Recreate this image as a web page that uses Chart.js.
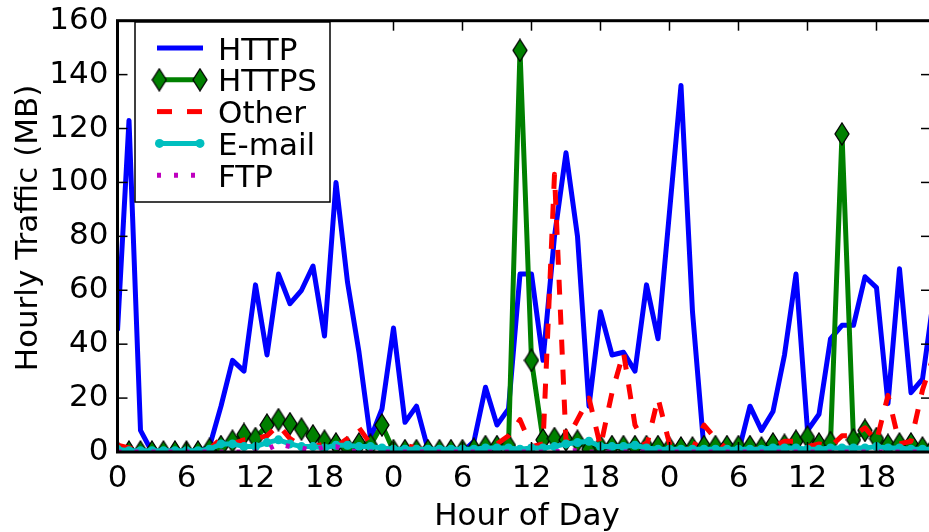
<!DOCTYPE html>
<html>
<head>
<meta charset="utf-8">
<script src="https://cdn.jsdelivr.net/npm/chart.js@4.4.1/dist/chart.umd.min.js"></script>
<style>
  html, body { margin: 0; padding: 0; overflow: hidden; background: #fff; }
  canvas { display: block; }
</style>
</head>
<body>
<canvas id="chart" width="932" height="532"></canvas>
<script>
// hourly samples over three days
const hours = [0,1,2,3,4,5,6,7,8,9,10,11,12,13,14,15,16,17,18,19,20,21,22,23,
  24,25,26,27,28,29,30,31,32,33,34,35,36,37,38,39,40,41,42,43,44,45,46,47,
  48,49,50,51,52,53,54,55,56,57,58,59,60,61,62,63,64,65,66,67,68,69,70,71];

const httpTraffic = [45,123,8,0,0,0,0,0,2,17, 34,30,62,36,66,55,60,69,43,100,
  63,37,5,16,46,11,17,1,0,0, 0,4,24,10,16,66,66,34,80,111,
  80,17,52,36,37,30,62,42,89,136, 52,1,0,4,0,17,8,15,36,66,
  8,14,42,47,47,65,61,18,68,22, 27,58];
const httpsTraffic = [0,0,0,0,0,0,0,0,1,2, 4,6.5,5,10,12,10.5,8.5,6,4,3,
  1.5,3,2.5,10,0.5,0.5,0.5,0.5,0.5,0.5, 0.5,1,2,2,2.5,149,34,4.5,5,4.5,
  4,1,2,2,2,2,2,2,1.5,1.5, 1.5,2,2,2,2,2,1.5,3,2.5,4,
  5.5,3,3.5,118,4.5,8,5,2.5,3,3, 1.5,2];
const otherTraffic = [2.5,1.5,0.5,0,0,0,0,0,1,5, 3,4.5,5,6,10,5,2,2,3,2,
  5,9,3,1,1,2.5,1.5,0.5,0.5,0.5, 0.5,1,1,3,6,12,2,3,103,4,
  12,20,2,22,37,10,2,20,3,1, 1,10,5,1,0.5,1,1,2,4,4,
  2,3,2,6,6,9,4,21,3,4, 23,36];
const emailTraffic = [1,0.5,0.5,0.5,0.5,0.5,0.5,0.5,1,3, 3,2,2,3.5,4.5,3,2,2,1.5,2.5,
  2.5,2,2,1.5,1,1,1,1,1,1, 1,1,1.5,1.5,1.5,1,1.5,1.5,2,3,
  3.5,4,2,2,2,2.5,1.5,1,1,1, 1,1,1,1,1,1,1,1.5,1.5,1.5,
  1,1,1.5,1.5,1.5,1.5,2,1.5,1.5,1, 1,1];
const ftpTraffic = [0,0,0,0,0,0,0,0,0,0, 0,0,0,1,3,2,1.5,0.5,2,2,
  0.5,0,0,0,0,0,0,0,0,0, 0,0,0,0,0,0,0,0,0,0.5,
  0.5,0,0,0,0,0,0,0,0,0, 0,0,0,0,0,0,0,0,0,0,
  0,0,0,0,0,0,0,0,0,0, 0,0];

const xTickValues = [0,6,12,18,24,30,36,42,48,54,60,66];
const xTickLabels = ['0','6','12','18','0','6','12','18','0','6','12','18'];
const yTickValues = [0,20,40,60,80,100,120,140,160];

const FONT = '31px "DejaVu Sans"';
const BLUE = '#0000ff', GREEN = '#008000', RED = '#ff0000', CYAN = '#00bfbf', MAGENTA = '#bf00bf';

// tall thin diamond marker like matplotlib's 'd'
function makeDiamond() {
  const w = 14, h = 22;
  const c = document.createElement('canvas');
  c.width = w + 2; c.height = h + 2;
  const g = c.getContext('2d');
  g.beginPath();
  g.moveTo(c.width / 2, 1);
  g.lineTo(c.width - 1, c.height / 2);
  g.lineTo(c.width / 2, c.height - 1);
  g.lineTo(1, c.height / 2);
  g.closePath();
  g.fillStyle = GREEN;
  g.fill();
  g.lineWidth = 1.3;
  g.strokeStyle = '#000';
  g.stroke();
  return c;
}
const diamond = makeDiamond();

const legendItems = [
  { label: 'HTTP', color: BLUE, dash: [] },
  { label: 'HTTPS', color: GREEN, dash: [], marker: 'diamond' },
  { label: 'Other', color: RED, dash: [15, 15] },
  { label: 'E-mail', color: CYAN, dash: [], marker: 'circle' },
  { label: 'FTP', color: MAGENTA, dash: [4, 13] },
];

const decorations = {
  id: 'decorations',
  afterDatasetsDraw(chart) {
    const { ctx, chartArea: a, scales: { x, y } } = chart;
    const seg = (x1, y1, x2, y2) => { ctx.beginPath(); ctx.moveTo(x1, y1); ctx.lineTo(x2, y2); ctx.stroke(); };
    ctx.save();
    ctx.strokeStyle = '#000';
    ctx.lineWidth = 1.5;
    xTickValues.forEach(v => {
      const px = x.getPixelForValue(v);
      seg(px, a.bottom, px, a.bottom - 10);
      seg(px, a.top, px, a.top + 10);
    });
    yTickValues.forEach(v => {
      const py = y.getPixelForValue(v);
      seg(a.left, py, a.left + 10, py);
      seg(a.right, py, a.right - 10, py);
    });
    ctx.lineWidth = 3;
    ctx.strokeRect(a.left, a.top, a.right - a.left, a.bottom - a.top);

    // legend box
    ctx.lineWidth = 1.5;
    ctx.fillStyle = '#fff';
    ctx.fillRect(135, 22, 195, 180);
    ctx.strokeRect(135, 22, 195, 180);
    legendItems.forEach((it, i) => {
      const ly = 48 + i * 31.8;
      ctx.save();
      ctx.strokeStyle = it.color;
      ctx.lineWidth = 5;
      ctx.setLineDash(it.dash);
      ctx.lineCap = 'butt';
      seg(157, ly, 203, ly);
      ctx.restore();
      if (it.marker === 'diamond') {
        ctx.drawImage(diamond, 159.3 - diamond.width / 2, ly - diamond.height / 2);
        ctx.drawImage(diamond, 200 - diamond.width / 2, ly - diamond.height / 2);
      } else if (it.marker === 'circle') {
        ctx.fillStyle = it.color;
        [159.5, 200].forEach(cx => { ctx.beginPath(); ctx.arc(cx, ly, 4.5, 0, Math.PI * 2); ctx.fill(); });
      }
      ctx.fillStyle = '#000';
      ctx.font = FONT;
      ctx.textBaseline = 'alphabetic';
      ctx.textAlign = 'left';
      ctx.fillText(it.label, 218, ly + 11.5);
    });
    ctx.restore();
  },
  afterDraw(chart) {
    const { ctx } = chart;
    ctx.save();
    ctx.fillStyle = '#000';
    ctx.font = FONT;
    ctx.textAlign = 'center';
    ctx.textBaseline = 'alphabetic';
    ctx.fillText('Hour of Day', 527, 525);
    ctx.translate(37, 228);
    ctx.rotate(-Math.PI / 2);
    ctx.fillText('Hourly Traffic (MB)', 0, 0);
    ctx.restore();
  }
};

const line = (label, data, color, extra) => Object.assign({
  label, data,
  borderColor: color,
  backgroundColor: color,
  borderWidth: 5,
  pointRadius: 0,
  tension: 0,
  fill: false,
  clip: 0,
  borderJoinStyle: 'round',
}, extra);

new Chart(document.getElementById('chart'), {
  type: 'line',
  data: {
    labels: hours,
    datasets: [
      line('HTTP', httpTraffic, BLUE, { order: 5 }),
      line('HTTPS', httpsTraffic, GREEN, { order: 4, pointStyle: diamond, pointRadius: 11 }),
      line('Other', otherTraffic, RED, { order: 3, borderDash: [15, 15], borderCapStyle: 'butt' }),
      line('E-mail', emailTraffic, CYAN, { order: 2, pointStyle: 'circle', pointRadius: 4.5, pointBorderWidth: 0, pointBackgroundColor: CYAN }),
      line('FTP', ftpTraffic, MAGENTA, { order: 1, borderDash: [4, 13], borderCapStyle: 'butt' }),
    ]
  },
  options: {
    responsive: false,
    animation: false,
    events: [],
    layout: { autoPadding: false, padding: { top: 20.7, right: 1, left: 0, bottom: 0 } },
    plugins: { legend: { display: false }, tooltip: { enabled: false } },
    scales: {
      x: {
        type: 'linear',
        min: 0,
        max: 70.74,
        grid: { display: false, drawTicks: false },
        border: { display: false },
        afterBuildTicks: s => { s.ticks = xTickValues.map(v => ({ value: v })); },
        afterFit: s => { s.height = 80; s.paddingLeft = 0; s.paddingRight = 0; },
        ticks: {
          color: '#000',
          font: { family: 'DejaVu Sans', size: 31 },
          padding: 8,
          maxRotation: 0,
          autoSkip: false,
          callback: (v, i) => xTickLabels[i],
        },
      },
      y: {
        min: 0,
        max: 160,
        grid: { display: false, drawTicks: false },
        border: { display: false },
        afterBuildTicks: s => { s.ticks = yTickValues.map(v => ({ value: v })); },
        afterFit: s => { s.width = 117.5; s.paddingTop = 0; s.paddingBottom = 0; },
        ticks: {
          color: '#000',
          font: { family: 'DejaVu Sans', size: 31 },
          padding: 9,
        },
      },
    },
  },
  plugins: [decorations],
});
</script>
</body>
</html>
